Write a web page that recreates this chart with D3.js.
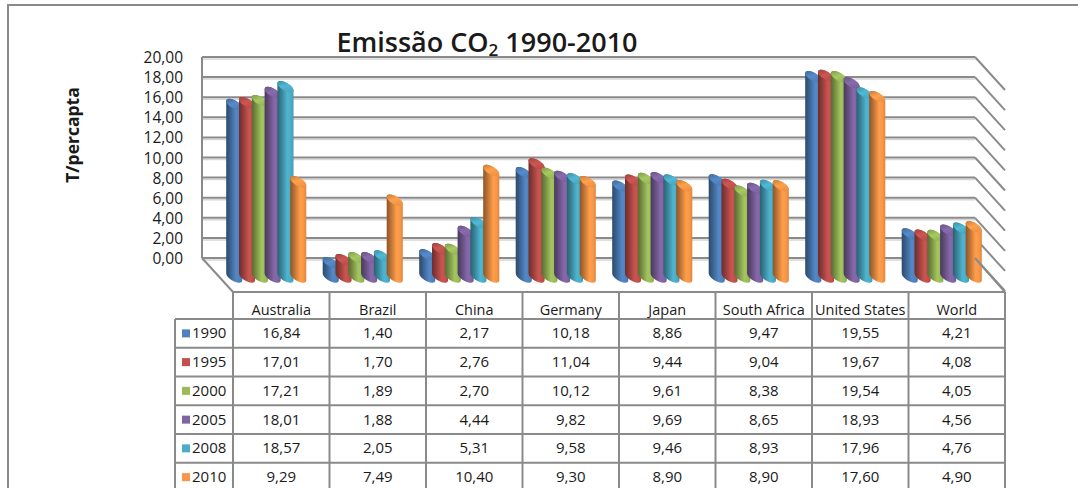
<!DOCTYPE html>
<html>
<head>
<meta charset="utf-8">
<script src="https://cdn.jsdelivr.net/npm/d3@7"></script>
<style>
  html, body { margin: 0; padding: 0; background: #fff; }
  svg { display: block; }
  text { font-family: "Open Sans", "Liberation Sans", sans-serif; fill: #1a1a1a; }
</style>
</head>
<body>
<svg id="chart" width="1078" height="488"></svg>
<script>
// CO2 emissions per capita (t), by country and year
const countries = ["Australia", "Brazil", "China", "Germany", "Japan", "South Africa", "United States", "World"];
const years = ["1990", "1995", "2000", "2005", "2008", "2010"];
const v1990 = [16.84, 1.40, 2.17, 10.18, 8.86, 9.47, 19.55, 4.21];
const v1995 = [17.01, 1.70, 2.76, 11.04, 9.44, 9.04, 19.67, 4.08];
const v2000 = [17.21, 1.89, 2.70, 10.12, 9.61, 8.38, 19.54, 4.05];
const v2005 = [18.01, 1.88, 4.44, 9.82, 9.69, 8.65, 18.93, 4.56];
const v2008 = [18.57, 2.05, 5.31, 9.58, 9.46, 8.93, 17.96, 4.76];
const v2010 = [9.29, 7.49, 10.40, 9.30, 8.90, 8.90, 17.60, 4.90];
const seriesValues = [v1990, v1995, v2000, v2005, v2008, v2010];
const yTicks = [0, 2, 4, 6, 8, 10, 12, 14, 16, 18, 20];
const seriesColors = ["#4F81BD", "#C0504D", "#9BBB59", "#8064A2", "#4BACC6", "#F79646"];

const ptBR = d3.formatLocale({ decimal: ",", thousands: ".", grouping: [3], currency: ["", ""] });
const fmt = ptBR.format(".2f");

const svg = d3.select("#chart");
const defs = svg.append("defs");
const lineColor = "#8a8a8a";

// Outer chart frame
svg.append("rect")
  .attr("x", 8).attr("y", 5).attr("width", 1100).attr("height", 520)
  .attr("fill", "#fff").attr("stroke", lineColor).attr("stroke-width", 2);

// Oblique 3D layout: back wall and depth offset
const wallLeft = 202, wallRight = 975;
const depth = { dx: 30, dy: 33 };
const yWall = d3.scaleLinear().domain([0, 20]).range([258, 57]);
const yBar = d3.scaleLinear().domain([0, 20]).range([277, 72]);

const xCol = d3.scaleBand().domain(countries).range([wallLeft + depth.dx + 1, wallRight + depth.dx]);
const xSeries = d3.scaleBand().domain(years).range([-38.4, 38.4]);

// Gridlines on the back wall plus their diagonal continuation
const grid = svg.append("g");
yTicks.forEach(t => {
  const y = yWall(t);
  grid.append("line").attr("x1", wallLeft).attr("x2", wallRight).attr("y1", y + 2).attr("y2", y + 2)
    .attr("stroke", "#d6d6d6").attr("stroke-width", 1.5);
  grid.append("line").attr("x1", wallLeft).attr("x2", wallRight).attr("y1", y).attr("y2", y)
    .attr("stroke", lineColor).attr("stroke-width", 2);
  grid.append("line").attr("x1", wallRight).attr("y1", y).attr("x2", wallRight + depth.dx).attr("y2", y + depth.dy)
    .attr("stroke", lineColor).attr("stroke-width", 2);
});
// Left wall edge and floor edge
grid.append("line").attr("x1", wallLeft).attr("x2", wallLeft).attr("y1", yWall(20)).attr("y2", yWall(0))
  .attr("stroke", lineColor).attr("stroke-width", 2);
grid.append("line").attr("x1", wallLeft).attr("y1", yWall(0)).attr("x2", wallLeft + depth.dx + 1).attr("y2", yWall(0) + depth.dy + 1)
  .attr("stroke", lineColor).attr("stroke-width", 2);

// Value axis labels
const yAxis = d3.axisLeft(yWall).tickValues(yTicks).tickFormat(fmt).tickSize(0).tickPadding(0);
const axisG = svg.append("g").attr("transform", "translate(183,0)").call(yAxis);
axisG.select(".domain").remove();
axisG.selectAll("text").attr("font-size", 15.5).attr("fill", "#1a1a1a")
  .attr("font-family", "'Open Sans', sans-serif").attr("dy", "0.36em");

// Axis title
svg.append("text")
  .attr("transform", "translate(79,135) rotate(-90)")
  .attr("text-anchor", "middle")
  .attr("font-size", 17.5).attr("font-weight", 700)
  .text("T/percapta");

// Chart title
const title = svg.append("text").attr("x", 487).attr("y", 52).attr("text-anchor", "middle")
  .attr("font-size", 27).attr("font-weight", 600);
title.append("tspan").text("Emissão CO");
title.append("tspan").attr("font-size", 17).attr("dy", 4).text("2");
title.append("tspan").attr("dy", -4).text(" 1990-2010");

// Gradients for the cylinder bodies and caps
seriesColors.forEach((c, i) => {
  const col = d3.color(c);
  const body = defs.append("linearGradient").attr("id", "body" + i).attr("x1", 0).attr("x2", 1).attr("y1", 0).attr("y2", 0);
  [[0, col.darker(1.6)], [0.25, col.darker(0.8)], [0.62, col.brighter(0.15)], [0.85, col], [1, col.darker(0.35)]]
    .forEach(([o, cc]) => body.append("stop").attr("offset", o).attr("stop-color", cc.formatHex()));
  const cap = defs.append("linearGradient").attr("id", "cap" + i).attr("x1", 0).attr("x2", 1).attr("y1", 0).attr("y2", 0.4);
  [[0, col.darker(0.7)], [0.55, col.brighter(0.2)], [1, col.darker(0.1)]]
    .forEach(([o, cc]) => cap.append("stop").attr("offset", o).attr("stop-color", cc.formatHex()));
});

// Tilted cylinder geometry
const ea = 9, eb = 4, rot = 30;
const th = rot * Math.PI / 180;
const hx = Math.sqrt(ea * ea * Math.cos(th) ** 2 + eb * eb * Math.sin(th) ** 2);
const tdy = (ea * ea - eb * eb) * Math.sin(th) * Math.cos(th) / hx;

function bodyPath(cx, yTop, yBot) {
  return `M${cx - hx},${yTop - tdy} L${cx - hx},${yBot - tdy} ` +
    `A${ea},${eb} ${rot} 0 0 ${cx + hx},${yBot + tdy} ` +
    `L${cx + hx},${yTop + tdy} ` +
    `A${ea},${eb} ${rot} 0 0 ${cx - hx},${yTop - tdy} Z`;
}

const bars = svg.append("g");
countries.forEach((country, ci) => {
  const gx = xCol(country) + xCol.bandwidth() / 2 - depth.dx / 2;
  years.forEach((yr, si) => {
    const v = seriesValues[si][ci];
    const cx = gx + xSeries(yr) + xSeries.bandwidth() / 2;
    const yTop = yBar(v), yBot = yBar(0);
    bars.append("path").attr("d", bodyPath(cx, yTop, yBot)).attr("fill", `url(#body${si})`);
    bars.append("ellipse").attr("cx", 0).attr("cy", 0).attr("rx", ea).attr("ry", eb)
      .attr("transform", `translate(${cx},${yTop}) rotate(${rot})`)
      .attr("fill", `url(#cap${si})`);
  });
});

// Data table
const tableTop = 292, headerBottom = 319, legendLeft = 175;
const tLeft = xCol.range()[0], tRight = xCol.range()[1];
const yRow = d3.scaleBand().domain(years).range([headerBottom, headerBottom + 6 * 28.75]);
const table = svg.append("g");

// Floor right edge into the table corner
table.append("line").attr("x1", wallRight).attr("y1", yWall(0)).attr("x2", tRight).attr("y2", tableTop)
  .attr("stroke", lineColor).attr("stroke-width", 2);

const hLines = [tableTop, ...years.map(y => yRow(y))];
hLines.forEach((y, i) => {
  table.append("line").attr("x1", i === 0 ? tLeft : legendLeft).attr("x2", tRight).attr("y1", y).attr("y2", y)
    .attr("stroke", lineColor).attr("stroke-width", 2);
});
const vLines = [...countries.map(c => xCol(c)), tRight];
vLines.forEach(x => {
  table.append("line").attr("x1", x).attr("x2", x).attr("y1", tableTop).attr("y2", 500)
    .attr("stroke", lineColor).attr("stroke-width", 2);
});
table.append("line").attr("x1", legendLeft).attr("x2", legendLeft).attr("y1", headerBottom).attr("y2", 500)
  .attr("stroke", lineColor).attr("stroke-width", 2);

// Header: category names
countries.forEach(c => {
  table.append("text").attr("x", xCol(c) + xCol.bandwidth() / 2).attr("y", 315)
    .attr("text-anchor", "middle").attr("font-size", 14.5).text(c);
});

// Rows: legend key, year and values
years.forEach((yr, si) => {
  const cy = yRow(yr) + yRow.bandwidth() / 2;
  table.append("rect").attr("x", 182).attr("y", cy - 4).attr("width", 8).attr("height", 8)
    .attr("fill", seriesColors[si]);
  table.append("text").attr("x", 192).attr("y", cy + 5).attr("font-size", 15).text(yr);
  countries.forEach((c, ci) => {
    table.append("text").attr("x", xCol(c) + xCol.bandwidth() / 2).attr("y", cy + 5)
      .attr("text-anchor", "middle").attr("font-size", 15).text(fmt(seriesValues[si][ci]));
  });
});
</script>
</body>
</html>
